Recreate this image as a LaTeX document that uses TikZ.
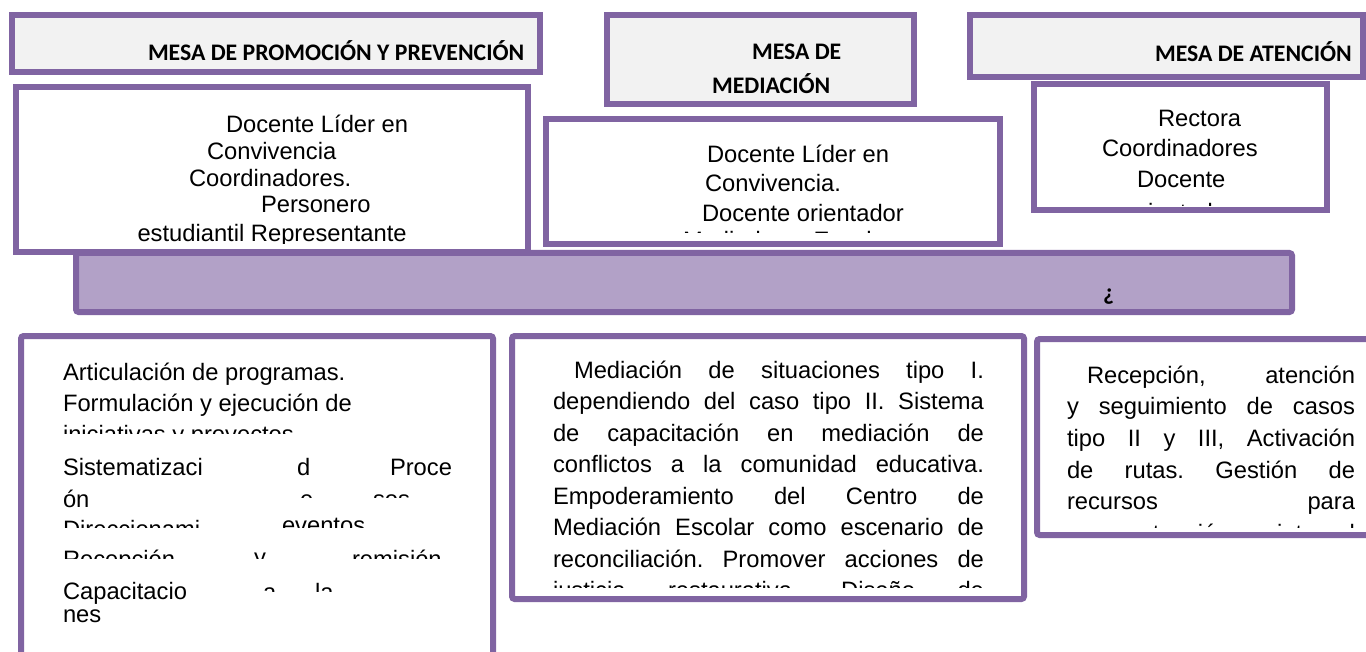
\documentclass[tikz,border=0pt]{standalone}
\usepackage{fontspec}
\setmainfont{Liberation Sans}
\newfontfamily\hdfamily{Carlito}
\definecolor{mpurple}{HTML}{8064A2}
\definecolor{hgray}{HTML}{F2F2F2}
\definecolor{barfill}{HTML}{B2A1C7}
\newcommand\bodyfnt{\fontsize{17.8pt}{23.625pt}\selectfont}
\newcommand\bodyfntb{\fontsize{17.8pt}{23.8pt}\selectfont}
\newcommand\hdfnt{\hdfamily\bfseries\fontsize{17.8pt}{21pt}\selectfont}
\newlength\jw
\newcommand\jsp{\spaceskip=0.278em plus 1fil\relax\xspaceskip=\spaceskip}
\newcommand\jl[1]{\leavevmode\hbox to \jw{\jsp #1}}
\newcommand\jli[2]{\leavevmode\hbox to \jw{\hspace*{#1}\jsp #2}}
\begin{document}
\begin{tikzpicture}[x=0.75pt,y=-0.75pt,
  frame/.style={draw=mpurple, line width=4.5pt},
  hdbox/.style={frame, fill=hgray},
  plainbox/.style={frame, fill=white},
  txt/.style={anchor=base west, inner sep=0pt, outer sep=0pt, font=\bodyfnt},
  hd/.style={anchor=base west, inner sep=0pt, outer sep=0pt, font=\hdfnt},
]
\useasboundingbox (0,0) rectangle (1366,652);
\fill[white] (0,0) rectangle (1366,652);

% ---------- top row ----------
\draw[hdbox] (12,15) rectangle (540,72);
\draw[plainbox] (15.5,87) rectangle (528,252);
\draw[hdbox] (607,15) rectangle (914,104);
\draw[plainbox] (546,119) rectangle (1000,244);
\draw[hdbox] (970,15) rectangle (1363,77);
\draw[plainbox] (1034,84.5) rectangle (1327,210);

\node[hd] (h1t) at (148,61) {MESA DE PROMOCIÓN Y PREVENCIÓN};
\node[hd] (h2a) at (752,60) {MESA DE};
\node[hd] (h2b) at (712,94) {MEDIACIÓN};
\node[hd] (h3t) at (1155,62) {MESA DE ATENCIÓN};

\begin{scope}
\clip (18.5,90) rectangle (525,243.5);
\node[txt] (p1a) at (226,133) {Docente Líder en};
\node[txt] (p1b) at (207,160) {Convivencia};
\node[txt] (p1c) at (189,187) {Coordinadores.};
\node[txt] (p1d) at (261,213) {Personero};
\node[txt] (p1e) at (137.5,242) {estudiantil Representante};
\end{scope}

\begin{scope}
\clip (549,122) rectangle (997,232.5);
\node[txt] (p2a) at (707,163) {Docente Líder en};
\node[txt] (p2b) at (705,192) {Convivencia.};
\node[txt] (p2c) at (702,222) {Docente orientador};
\node[txt] (p2d) at (683,248.5) {Mediadores Escolares};
\end{scope}

\begin{scope}
\clip (1037,88) rectangle (1324,206);
\node[txt] (p3a) at (1158,127) {Rectora};
\node[txt] (p3b) at (1102,157) {Coordinadores};
\node[txt] (p3c) at (1137,188) {Docente};
\node[txt] (p3d) at (1127,221) {orientador};
\end{scope}

% ---------- bar ----------
\draw[frame, fill=barfill, rounded corners=2pt] (76,253) rectangle (1292,312);
\node[hd] (q) at (1103,300) {¿};

% ---------- bottom row ----------
\draw[plainbox, rounded corners=2pt] (21,336) rectangle (493,672);
\draw[plainbox, rounded corners=2pt] (512,336) rectangle (1024,599);
\draw[plainbox, rounded corners=2pt] (1037,339) rectangle (1382,535);

% box 1
\begin{scope}
\clip (24,339) rectangle (490,652);
\node[txt] (b1a) at (63,380) {Articulación de programas.};
\node[txt] (b1b) at (63,411) {Formulación y ejecución de};
\node[txt] (b1e) at (63,475) {Sistematizaci};
\node[txt] (b1f) at (297,475) {d};
\node[txt] (b1g) at (390,475) {Proce};
\node[txt] (b1h) at (63,507) {ón};
\node[txt] (b1o) at (63,599) {Capacitacio};
\node[txt] (b1r) at (63,622) {nes};
\end{scope}
\begin{scope}
\clip (24,420) rectangle (490,433);
\node[txt] (b1c) at (63,442) {iniciativas y proyectos};
\end{scope}
\begin{scope}
\clip (24,485) rectangle (490,497.5);
\node[txt] (b1i) at (300,507) {e};
\node[txt] (b1j) at (373,507) {sos};
\end{scope}
\begin{scope}
\clip (24,512) rectangle (490,527);
\node[txt] (b1k) at (63,537) {Direccionami};
\node[txt] (b1l) at (282,533) {eventos};
\end{scope}
\begin{scope}
\clip (24,540) rectangle (490,558);
\node[txt] (b1m) at (63,567) {Recepción};
\node[txt] (b1n) at (254,565) {y};
\node[txt] (b1p) at (352,567) {remisión};
\end{scope}
\begin{scope}
\clip (24,575) rectangle (490,591);
\node[txt] (b1q) at (263,600) {a};
\node[txt] (b1s) at (315,600) {la};
\end{scope}

% box 2
\begin{scope}
\clip (515,339) rectangle (1021,587.5);
\node[txt, text width=323.25pt, align=left] (b2t) at (553,378)
{\setlength\jw{323.25pt}%
\jli{15.75pt}{Mediación de situaciones tipo I.}\\
\jl{dependiendo del caso tipo II. Sistema}\\
\jl{de capacitación en mediación de}\\
\jl{conflictos a la comunidad educativa.}\\
\jl{Empoderamiento del Centro de}\\
\jl{Mediación Escolar como escenario de}\\
\jl{reconciliación. Promover acciones de}\\
\jl{justicia restaurativa. Diseño de}};
\end{scope}

% box 3
\begin{scope}
\clip (1040,342) rectangle (1366,527.5);
\node[txt, font=\bodyfntb, text width=216pt, align=left] (b3t) at (1067,383)
{\setlength\jw{216pt}%
\jli{15pt}{Recepción, atención}\\
\jl{y seguimiento de casos}\\
\jl{tipo II y III, Activación}\\
\jl{de rutas. Gestión de}\\
\jl{recursos para}\\
\jl{su atención integral}};
\end{scope}
\end{tikzpicture}
\end{document}
